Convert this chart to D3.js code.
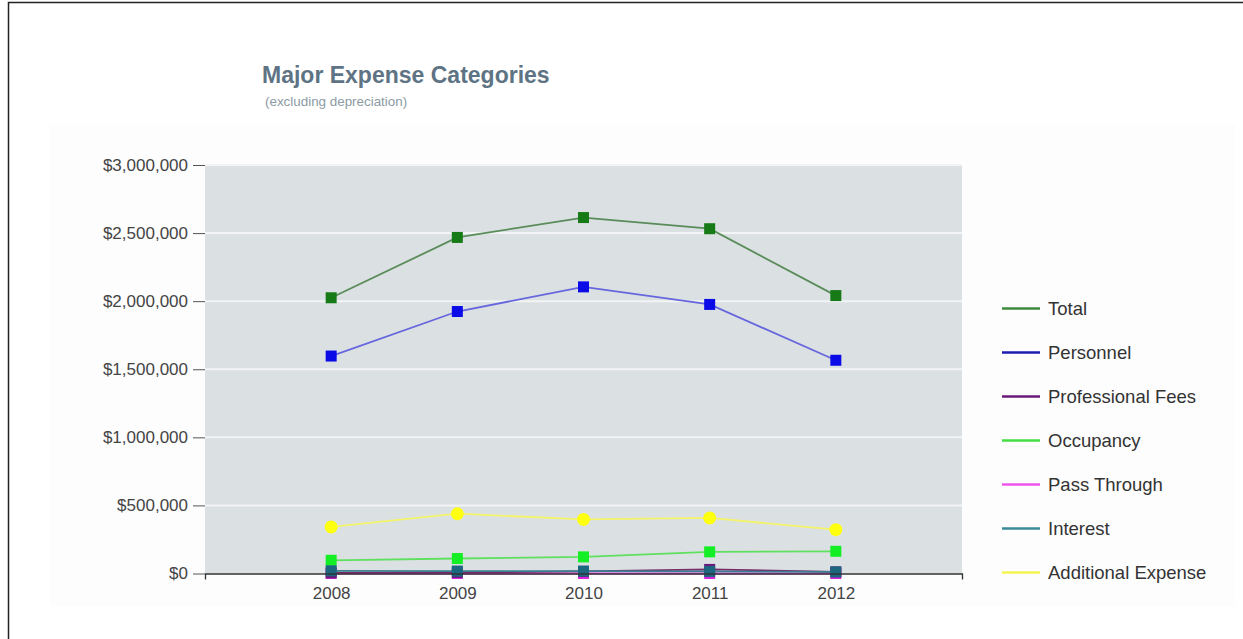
<!DOCTYPE html>
<html>
<head>
<meta charset="utf-8">
<script src="https://cdn.jsdelivr.net/npm/d3@7"></script>
<style>
  body { margin: 0; background: #fff; }
  svg { display: block; font-family: "Liberation Sans", Arial, sans-serif; }
</style>
</head>
<body>
<svg id="chart"></svg>
<script>
// yearly expense figures, dollars
var years = [2008, 2009, 2010, 2011, 2012]
var yTicks = [0, 500000, 1000000, 1500000, 2000000, 2500000, 3000000]

var total = [2025000, 2468000, 2614000, 2532000, 2041000]
var personnel = [1597000, 1924000, 2105000, 1976000, 1566000]
var professionalFees = [5000, 8000, 15000, 30000, 12000]
var occupancy = [97000, 110000, 122000, 159000, 163000]
var passThrough = [0, 0, 0, 0, 0]
var interest = [20000, 18000, 18000, 15000, 12000]
var additionalExpense = [342000, 439000, 397000, 408000, 322000]

var seriesNames = ["Total", "Personnel", "Professional Fees", "Occupancy", "Pass Through", "Interest", "Additional Expense"]

var series = [
  { name: "Total", values: total, line: "#5a8c5a", mark: "#167a16", legend: "#3d8a3d", shape: "square" },
  { name: "Personnel", values: personnel, line: "#6666dd", mark: "#0b0be8", legend: "#1c1cb0", shape: "square" },
  { name: "Professional Fees", values: professionalFees, line: "#7a2a6a", mark: "#6a1a7a", legend: "#6a1a7a", shape: "square" },
  { name: "Occupancy", values: occupancy, line: "#5fe05f", mark: "#14ee24", legend: "#44dd44", shape: "square" },
  { name: "Pass Through", values: passThrough, line: "#ee44ee", mark: "#dd22dd", legend: "#ee55ee", shape: "square" },
  { name: "Interest", values: interest, line: "#3a7f8f", mark: "#1d6680", legend: "#3a8a9a", shape: "square" },
  { name: "Additional Expense", values: additionalExpense, line: "#f4f46a", mark: "#ffff10", legend: "#f4f450", shape: "circle" }
]

// draw order: small series first, the big two on top
var drawOrder = ["Additional Expense", "Occupancy", "Pass Through", "Professional Fees", "Interest", "Personnel", "Total"]

var width = 1243, height = 639
var plot = { left: 205, right: 962, top: 165, bottom: 573.5 }

var svg = d3.select("#chart").attr("width", width).attr("height", height)

// outer frame and faint panel
svg.append("rect")
  .attr("x", 8.5).attr("y", 2.5)
  .attr("width", width + 20).attr("height", height + 20)
  .attr("fill", "#fff").attr("stroke", "#222").attr("stroke-width", 1.5)

svg.append("rect")
  .attr("x", 50).attr("y", 125)
  .attr("width", 1185).attr("height", 481)
  .attr("fill", "#fdfdfd")

svg.append("text")
  .text("Major Expense Categories")
  .attr("x", 262).attr("y", 83)
  .attr("fill", "#5e7383")
  .style("font-size", "23px").style("font-weight", "bold")

svg.append("text")
  .text("(excluding depreciation)")
  .attr("x", 265).attr("y", 106)
  .attr("fill", "#8c9ba5")
  .style("font-size", "13.4px")

var xScale = d3.scaleLinear().domain([2007, 2013]).range([plot.left, plot.right])
var yScale = d3.scaleLinear().domain([0, 3000000]).range([plot.bottom, plot.top])

svg.append("rect")
  .attr("x", plot.left).attr("y", plot.top)
  .attr("width", plot.right - plot.left).attr("height", plot.bottom - plot.top)
  .attr("fill", "#dbe0e3")

svg.append("g")
  .selectAll("line")
  .data(yTicks.slice(1))
  .enter()
  .append("line")
  .attr("x1", plot.left).attr("x2", plot.right)
  .attr("y1", d => yScale(d)).attr("y2", d => yScale(d))
  .attr("stroke", "#f2f4f5").attr("stroke-width", 2)

var yAxisGen = d3.axisLeft(yScale)
  .tickValues(yTicks)
  .tickSize(12)
  .tickPadding(5)
  .tickFormat(d => "$" + d3.format(",")(d))

var yAxis = svg.append("g")
  .attr("transform", `translate(${plot.left},0)`)
  .call(yAxisGen)
yAxis.select(".domain").remove()
yAxis.selectAll("line").attr("stroke", "#555")
yAxis.selectAll("text").attr("fill", "#444").style("font-size", "17px").style("font-family", "Liberation Sans, Arial, sans-serif")

var lineGen = d3.line()
  .x((d, i) => xScale(years[i]))
  .y(d => yScale(d))

drawOrder.forEach(function(name) {
  var s = series.find(d => d.name == name)
  var g = svg.append("g")

  g.append("path")
    .datum(s.values)
    .attr("d", lineGen)
    .attr("fill", "none")
    .attr("stroke", s.line)
    .attr("stroke-width", 1.8)

  if (s.shape == "circle") {
    g.selectAll("circle")
      .data(s.values)
      .enter()
      .append("circle")
      .attr("cx", (d, i) => xScale(years[i]))
      .attr("cy", d => yScale(d))
      .attr("r", 6.5)
      .attr("fill", s.mark)
  } else {
    g.selectAll("rect")
      .data(s.values)
      .enter()
      .append("rect")
      .attr("x", (d, i) => xScale(years[i]) - 5.5)
      .attr("y", d => yScale(d) - 5.5)
      .attr("width", 11).attr("height", 11)
      .attr("fill", s.mark)
  }
})

var xAxisGen = d3.axisBottom(xScale)
  .tickValues(years)
  .tickSizeInner(0)
  .tickSizeOuter(6)
  .tickPadding(13)
  .tickFormat(d3.format("d"))

var xAxis = svg.append("g")
  .attr("transform", `translate(0,${plot.bottom})`)
  .call(xAxisGen)
xAxis.select(".domain").attr("stroke", "#333").attr("stroke-width", 1.3)
xAxis.selectAll("text").attr("fill", "#444").style("font-size", "17px").style("font-family", "Liberation Sans, Arial, sans-serif")

// legend
var legend = svg.append("g")
  .selectAll("g")
  .data(seriesNames)
  .enter()
  .append("g")
  .attr("transform", (d, i) => `translate(1002,${308.5 + i * 44})`)

legend.append("line")
  .attr("x1", 0).attr("x2", 38)
  .attr("stroke", d => series.find(s => s.name == d).legend)
  .attr("stroke-width", 2.5)

legend.append("text")
  .text(d => d)
  .attr("x", 46)
  .attr("dy", "0.36em")
  .attr("fill", "#333")
  .style("font-size", "18.5px")
</script>
</body>
</html>
